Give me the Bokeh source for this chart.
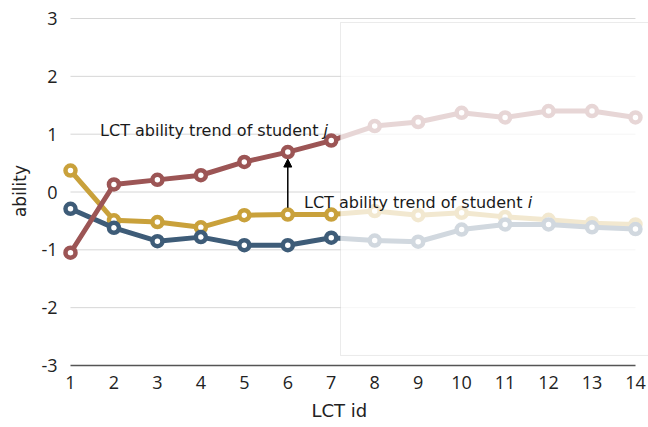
from bokeh.plotting import figure
from bokeh.models import (Range1d, FixedTicker, BoxAnnotation, Label, Arrow,
                          NormalHead, Title)
from bokeh.embed import file_html
from bokeh.resources import INLINE

# ---- data ----
lct_id = list(range(1, 15))
student_j = [-1.05, 0.13, 0.21, 0.29, 0.52, 0.69, 0.89, 1.14, 1.21, 1.37, 1.29, 1.40, 1.40, 1.29]
student_i = [0.37, -0.49, -0.52, -0.61, -0.40, -0.39, -0.39, -0.33, -0.40, -0.36, -0.43, -0.48, -0.54, -0.56]
student_k = [-0.29, -0.62, -0.85, -0.78, -0.92, -0.92, -0.79, -0.84, -0.86, -0.65, -0.56, -0.56, -0.61, -0.64]
y_ticks = [-3, -2, -1, 0, 1, 2, 3]

RED = "#9c5555"
YELLOW = "#c9a13b"
BLUE = "#3e5c78"
TICK_FONT = "Open Sans"
FONT = "DejaVu Sans"

p = figure(width=648, height=427,
           x_range=Range1d(0.747, 14.3), y_range=Range1d(-3, 3.035),
           output_backend="svg", toolbar_location=None,
           min_border_left=59, min_border_right=0, min_border_top=16, min_border_bottom=62)
p.outline_line_color = None
p.xgrid.visible = False
p.ygrid.visible = False

# gridlines limited to the data span
grid_y = [t for t in y_ticks if t != y_ticks[0]]
p.segment(x0=[lct_id[0]] * len(grid_y), x1=[lct_id[-1]] * len(grid_y),
          y0=grid_y, y1=grid_y, line_color="#d6d6d6", line_width=1)

# series
for vals, col in ((student_i, YELLOW), (student_k, BLUE), (student_j, RED)):
    p.line(lct_id, vals, line_color=col, line_width=5, line_join="round", line_cap="round")
    p.scatter(lct_id, vals, size=10, fill_color="white", line_color=col, line_width=4.5)

# axes
xa = p.xaxis[0]
xa.ticker = FixedTicker(ticks=lct_id)
xa.bounds = (lct_id[0], lct_id[-1])
xa.major_tick_line_color = None
xa.minor_tick_line_color = None
xa.major_tick_out = 0
xa.major_tick_in = 0
xa.axis_line_color = "#555555"
xa.axis_line_width = 1.3
xa.major_label_text_font = TICK_FONT
xa.major_label_text_font_size = "18px"
xa.major_label_text_color = "#222222"
xa.major_label_standoff = 10

ya = p.yaxis[0]
ya.ticker = FixedTicker(ticks=y_ticks)
ya.major_label_overrides = {t: str(t) for t in y_ticks}
ya.axis_line_color = None
ya.major_tick_line_color = None
ya.minor_tick_line_color = None
ya.major_tick_out = 0
ya.major_tick_in = 0
ya.major_label_text_font = TICK_FONT
ya.major_label_text_font_size = "18px"
ya.major_label_text_color = "#222222"
ya.major_label_standoff = 2
ya.axis_label = "ability"
ya.axis_label_text_font = FONT
ya.axis_label_text_font_size = "17px"
ya.axis_label_text_font_style = "normal"
ya.axis_label_text_color = "#222222"
ya.axis_label_standoff = 8

# x axis title, placed like the reference (left of the axis centre)
p.add_layout(Title(text="LCT id", align="left", offset=252, standoff=12,
                   text_font=FONT, text_font_size="18px",
                   text_font_style="normal", text_color="#222222"), "below")

# fading overlay for future LCTs
overlay = BoxAnnotation(left=7.213, bottom=-2.827, top=2.931,
                        fill_color="white", fill_alpha=0.76,
                        line_color="#bdbdbd", line_width=1)
p.add_layout(overlay)

# arrow between students at LCT 6
k = 5
p.add_layout(Arrow(end=NormalHead(size=8, fill_color="black", line_color="black"),
                   x_start=lct_id[k], y_start=student_i[k] + 0.12,
                   x_end=lct_id[k], y_end=student_j[k] - 0.12,
                   line_color="black", line_width=1.5))

lab_kw = dict(text_font=FONT, text_font_size="16px", text_color="#1a1a1a",
              text_baseline="alphabetic")
p.add_layout(Label(x=6.707, y=1.064, text="LCT ability trend of student",
                   text_align="right", **lab_kw))
p.add_layout(Label(x=6.82, y=1.064, text="j", text_align="left",
                   text_font_style="italic", **lab_kw))
p.add_layout(Label(x=11.40, y=-0.176, text="LCT ability trend of student",
                   text_align="right", **lab_kw))
p.add_layout(Label(x=11.52, y=-0.176, text="i", text_align="left",
                   text_font_style="italic", **lab_kw))

open("out.html", "w").write(file_html(p, INLINE))
